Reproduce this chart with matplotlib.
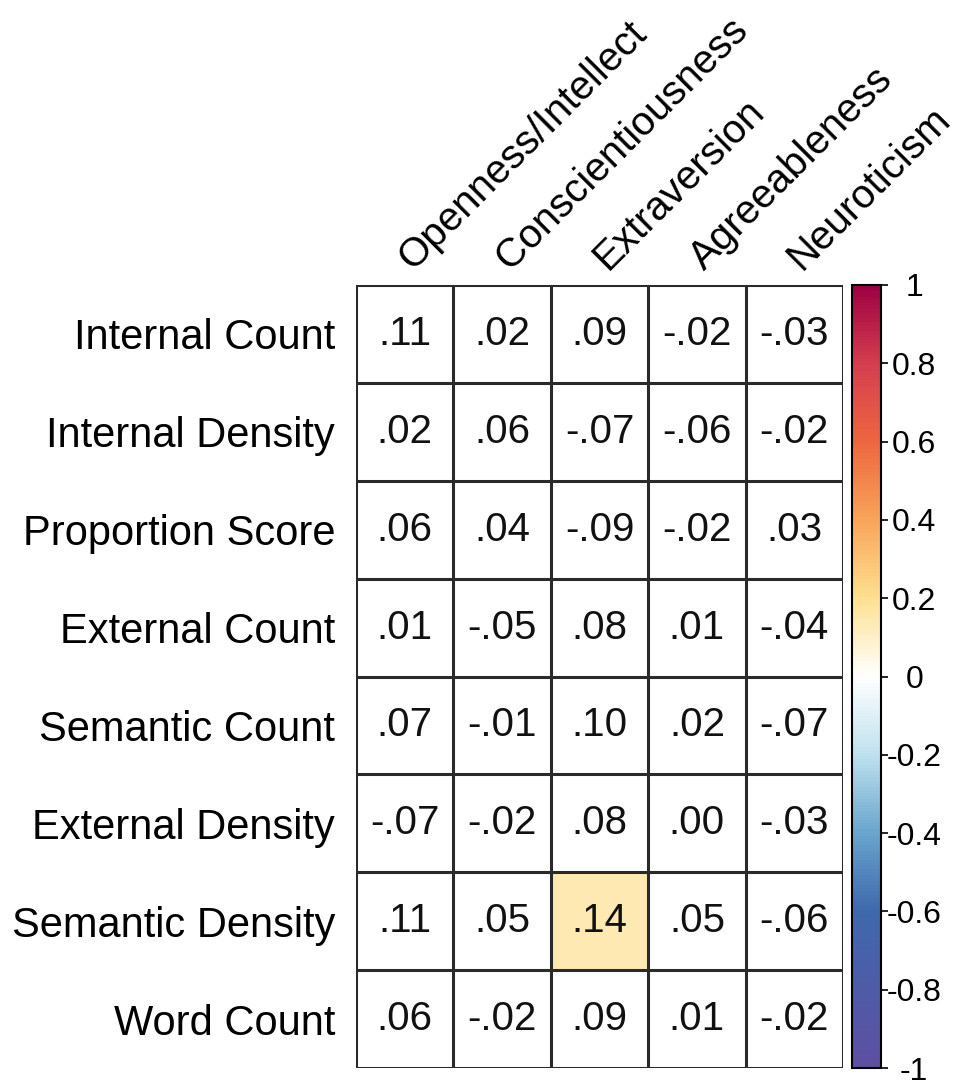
import numpy as np
import matplotlib.pyplot as plt
from matplotlib.colors import LinearSegmentedColormap, Normalize
from matplotlib.cm import ScalarMappable

plt.rcParams['font.family'] = ['Liberation Sans', 'DejaVu Sans']

rows = ["Internal Count", "Internal Density", "Proportion Score", "External Count",
        "Semantic Count", "External Density", "Semantic Density", "Word Count"]
cols = ["Openness/Intellect", "Conscientiousness", "Extraversion", "Agreeableness", "Neuroticism"]

corr = [
    [0.11, 0.02, 0.09, -0.02, -0.03],
    [0.02, 0.06, -0.07, -0.06, -0.02],
    [0.06, 0.04, -0.09, -0.02, 0.03],
    [0.01, -0.05, 0.08, 0.01, -0.04],
    [0.07, -0.01, 0.10, 0.02, -0.07],
    [-0.07, -0.02, 0.08, 0.00, -0.03],
    [0.11, 0.05, 0.14, 0.05, -0.06],
    [0.06, -0.02, 0.09, 0.01, -0.02],
]
# cells that reached significance (row, col); only these get filled
significant = [(6, 2)]

cbar_ticks = [-1, -0.8, -0.6, -0.4, -0.2, 0, 0.2, 0.4, 0.6, 0.8, 1]
cbar_labels = ["-1", "-0.8", "-0.6", "-0.4", "-0.2", "0", "0.2", "0.4", "0.6", "0.8", "1"]

cmap = LinearSegmentedColormap.from_list("corr", [
    (0.0, "#5e4fa2"), (0.2, "#3f68ad"), (0.3, "#6aa5cd"), (0.4, "#bfe1ee"),
    (0.5, "#ffffff"), (0.6, "#fee090"), (0.7, "#f9a55a"), (0.8, "#ee6640"),
    (0.9, "#d53e4f"), (1.0, "#9e0142")])
norm = Normalize(-1, 1)

def fmt(v):
    s = f"{v:.2f}"
    return s.replace("0.", ".", 1)

data = np.array(corr)
filled = np.full(data.shape, np.nan)
for r, c in significant:
    filled[r, c] = data[r, c]

fig = plt.figure(figsize=(9.63, 10.82), dpi=100)
ax = fig.add_axes([0.3697, 0.0129, 0.5057, 0.7237])
ax.imshow(np.ma.masked_invalid(filled), cmap=cmap, norm=norm, aspect='auto',
          interpolation='nearest')
ax.set_xlim(-0.5, len(cols) - 0.5)
ax.set_ylim(len(rows) - 0.5, -0.5)

for i in range(len(rows) + 1):
    ax.axhline(i - 0.5, color="#2a2a2a", lw=2.2)
for j in range(len(cols) + 1):
    ax.axvline(j - 0.5, color="#2a2a2a", lw=2.2)

for i in range(len(rows)):
    for j in range(len(cols)):
        ax.text(j, i, fmt(data[i, j]), ha='center', va='center', fontsize=29, color='#111111')

ax.set_xticks([])
ax.set_yticks(range(len(rows)))
ax.set_yticklabels(rows, fontsize=30)
ax.tick_params(axis='y', length=0, pad=15)
for s in ax.spines.values():
    s.set_visible(False)

for j, name in enumerate(cols):
    ax.text(j, -0.72, name, rotation=45, ha='left', va='center',
            rotation_mode='anchor', fontsize=29)

cax = fig.add_axes([0.8847, 0.0129, 0.0301, 0.7237])
cb = fig.colorbar(ScalarMappable(norm=norm, cmap=cmap), cax=cax, ticks=cbar_ticks)
cb.ax.set_yticklabels(cbar_labels)
cb.ax.tick_params(labelsize=23, length=5, width=1.2, direction='out', pad=19)
for lab in cb.ax.get_yticklabels():
    lab.set_horizontalalignment('center')
cb.outline.set_linewidth(1.5)

fig.savefig("out.png", dpi=100)
